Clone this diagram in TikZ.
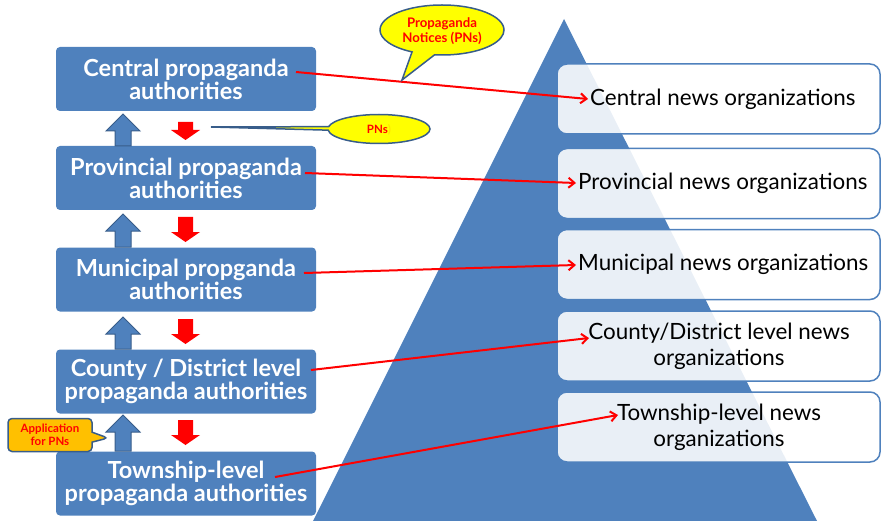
\documentclass[tikz,border=0pt]{standalone}
\usepackage{fontspec}
\setmainfont{Lato}
\usetikzlibrary{arrows.meta,shapes.callouts,shapes.geometric}
\definecolor{bblue}{HTML}{4F81BD}
\definecolor{dblue}{HTML}{385D8A}
\definecolor{ored}{HTML}{FF0000}
\definecolor{yel}{HTML}{FFFF00}
\definecolor{orng}{HTML}{FFC000}
\tikzset{
  leftbox/.style={fill=bblue, rounded corners=4pt, minimum width=260pt, minimum height=64pt,
    inner sep=0pt, align=center, text=white, font=\fontsize{23.5}{23}\selectfont\bfseries},
  rightbox/.style={draw=bblue, line width=1.5pt, fill=white, fill opacity=0.88, text opacity=1,
    rounded corners=10pt, minimum width=323pt, minimum height=70pt, inner sep=0pt},
  righttext/.style={font=\fontsize{22.4}{26}\selectfont, inner sep=0pt, align=center},
  bluearr/.style={fill=bblue, draw=dblue, line width=1pt, line join=miter},
  redarr/.style={fill=ored, draw=none},
  link/.style={draw=ored, line width=2pt, -{Straight Barb[length=6pt,width=10pt,line width=2pt]}},
  calltext/.style={text=ored, font=\fontsize{11.5}{13}\selectfont\bfseries, align=center, inner sep=0pt}
}
\newcommand\blueuparr[2]{%
  \draw[bluearr] (115,#2) -- (115,{#1+17}) -- (106,{#1+17}) -- (123,#1) -- (140,{#1+17}) -- (131,{#1+17}) -- (131,#2) -- cycle;}
\newcommand\reddownarr[2]{%
  \fill[redarr] (178,#1) -- (193,#1) -- (193,{#2-10}) -- (200,{#2-10}) -- (185.5,#2) -- (171,{#2-10}) -- (178,{#2-10}) -- cycle;}
\begin{document}
\begin{tikzpicture}[x=1pt,y=-1pt]
\useasboundingbox (0,0) rectangle (882,521);
% pyramid
\fill[bblue] (564,19) -- (817,521) -- (313,521) -- cycle;
% right boxes
\node[rightbox] (R1) at (718.5,99) {};
\node[rightbox] (R2) at (718.5,183.5) {};
\node[rightbox] (R3) at (718.5,264.5) {};
\node[rightbox] (R4) at (718.5,346) {};
\node[rightbox] (R5) at (718.5,427) {};
\node[righttext, anchor=west] (R1t) at (590,99) {Central news organizations};
\node[righttext, anchor=west] (R2t) at (578,183.5) {Provincial news organizations};
\node[righttext, anchor=west] (R3t) at (578,264.5) {Municipal news organizations};
\node[righttext] (R4t) at (719,346) {County/District level news\\organizations};
\node[righttext] (R5t) at (719,427) {Township-level news\\organizations};
% left boxes
\node[leftbox] (L1) at (186,79) {Central propaganda\\authorities};
\node[leftbox] (L2) at (186,178) {Provincial propaganda\\authorities};
\node[leftbox] (L3) at (186,279.5) {Municipal propganda\\authorities};
\node[leftbox] (L4) at (186,381.5) {County / District level\\propaganda authorities};
\node[leftbox] (L5) at (186,483.5) {Township-level\\propaganda authorities};
% block arrows
\blueuparr{114}{146}
\reddownarr{122}{140}
\blueuparr{214}{247}
\reddownarr{217}{242}
\blueuparr{317}{349}
\reddownarr{319}{344}
\blueuparr{415}{451}
\reddownarr{420}{445}
% connector endpoints
\coordinate (s1) at (296,72);
\coordinate (s2) at (305,173);
\coordinate (s3) at (304,273);
\coordinate (s4) at (311,370);
\coordinate (s5) at (275,477);
\coordinate (e1) at (588,99);
\coordinate (e2) at (576,183);
\coordinate (e3) at (576,265);
\coordinate (e4) at (589,338);
\coordinate (e5) at (618,415);
\draw[link] (s1) -- (e1);
\draw[link] (s2) -- (e2);
\draw[link] (s3) -- (e3);
\draw[link] (s4) -- (e4);
\draw[link] (s5) -- (e5);
% callouts
\node[ellipse callout, fill=yel, draw=dblue, line width=1.5pt, minimum width=124pt, minimum height=50pt,
  inner sep=0pt, callout absolute pointer={(402,80)}, callout pointer arc=22] (C1) at (442,30) {};
\node[calltext, font=\fontsize{13.2}{15}\selectfont\bfseries] (C1t) at (442,31) {Propaganda\\Notices (PNs)};
\node[ellipse callout, fill=yel, draw=dblue, line width=1.5pt, minimum width=102pt, minimum height=29pt,
  inner sep=0pt, callout absolute pointer={(211,127)}, callout pointer arc=14] (C2) at (379,129) {};
\node[calltext] (C2t) at (379,130) {PNs\textcolor{yel!80!orange})};
\node[rectangle callout, fill=orng, draw=dblue, line width=1.5pt, rounded corners=4pt, minimum width=84pt,
  minimum height=33pt, inner sep=0pt, callout absolute pointer={(108,438)}, callout pointer width=10pt] (C3) at (50,435) {};
\node[calltext] (C3t) at (50,435) {Application\\for PNs};
\end{tikzpicture}
\end{document}
